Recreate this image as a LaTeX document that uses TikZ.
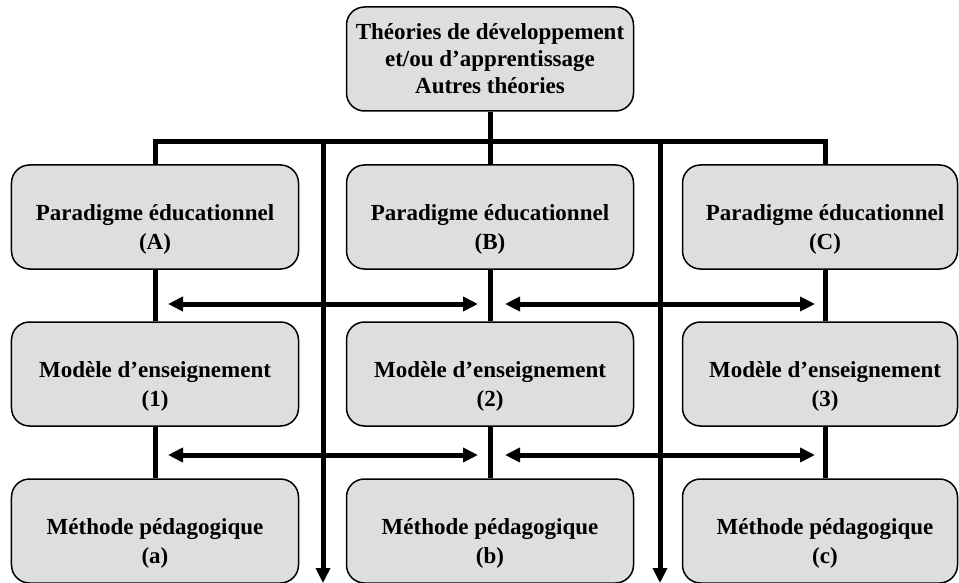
\documentclass[tikz,border=0pt]{standalone}
\usepackage{fontspec}
\setmainfont{Liberation Serif}
\usepackage{xcolor}
\usetikzlibrary{arrows.meta}
\definecolor{boxgray}{RGB}{222,222,222}
\newcommand{\lowline}{\rule{0pt}{41bp}}

\begin{document}
\begin{tikzpicture}[x=1bp, y=-1bp,
        box/.style={draw, line width=1.5bp, rounded corners=18bp, fill=boxgray,
            minimum width=287bp, minimum height=104bp, align=center, inner sep=0pt,
            font=\fontsize{23bp}{29bp}\selectfont\bfseries},
        link/.style={line width=5bp},
        flow/.style={line width=5bp, -{Triangle[length=15bp, width=14bp]}},
        both/.style={line width=5bp, {Triangle[length=15bp, width=14bp]}-{Triangle[length=15bp, width=14bp]}}]
        \useasboundingbox (0,0) rectangle (959,583);

        \node[box, font=\fontsize{23bp}{27bp}\selectfont\bfseries] (theo) at (490,59) {Théories de développement\\et/ou d’apprentissage\\Autres théories};

        \node[box] (parA) at (155,217) {\lowline Paradigme éducationnel\\(A)};
        \node[box] (parB) at (490,217) {\lowline Paradigme éducationnel\\(B)};
        \node[box, minimum width=275bp] (parC) at (820,217) {\hspace{10bp}\lowline Paradigme éducationnel\\\hspace{10bp}(C)};

        \node[box] (modA) at (155,374) {\lowline Modèle d’enseignement\\(1)};
        \node[box] (modB) at (490,374) {\lowline Modèle d’enseignement\\(2)};
        \node[box, minimum width=275bp] (modC) at (820,374) {\hspace{10bp}\lowline Modèle d’enseignement\\\hspace{10bp}(3)};

        \node[box] (metA) at (155,531) {\lowline Méthode pédagogique\\(a)};
        \node[box] (metB) at (490,531) {\lowline Méthode pédagogique\\(b)};
        \node[box, minimum width=275bp] (metC) at (820,531) {\hspace{10bp}\lowline Méthode pédagogique\\\hspace{10bp}(c)};

        \coordinate (bar) at (490,142);
        \coordinate (downL) at (323,142);
        \coordinate (downLend) at (323,583);
        \coordinate (downR) at (660,142);
        \coordinate (downRend) at (660,583);
        \coordinate (colC) at (825,0);

        \draw[link] (theo.south) -- (parB.north);
        \draw[link] (parA.north) |- (bar) -| (colC |- parC.north);
        \draw[flow] (downL) -- (downLend);
        \draw[flow] (downR) -- (downRend);

        \draw[link] (parA.south) -- (modA.north);
        \draw[link] (parB.south) -- (modB.north);
        \draw[link] (colC |- parC.south) -- (colC |- modC.north);
        \draw[link] (modA.south) -- (metA.north);
        \draw[link] (modB.south) -- (metB.north);
        \draw[link] (colC |- modC.south) -- (colC |- metC.north);

        \foreach \y in {304, 455} {
            \draw[both] (168,\y) -- (478,\y);
            \draw[both] (505,\y) -- (815,\y);
        }
    \end{tikzpicture}
\end{document}
